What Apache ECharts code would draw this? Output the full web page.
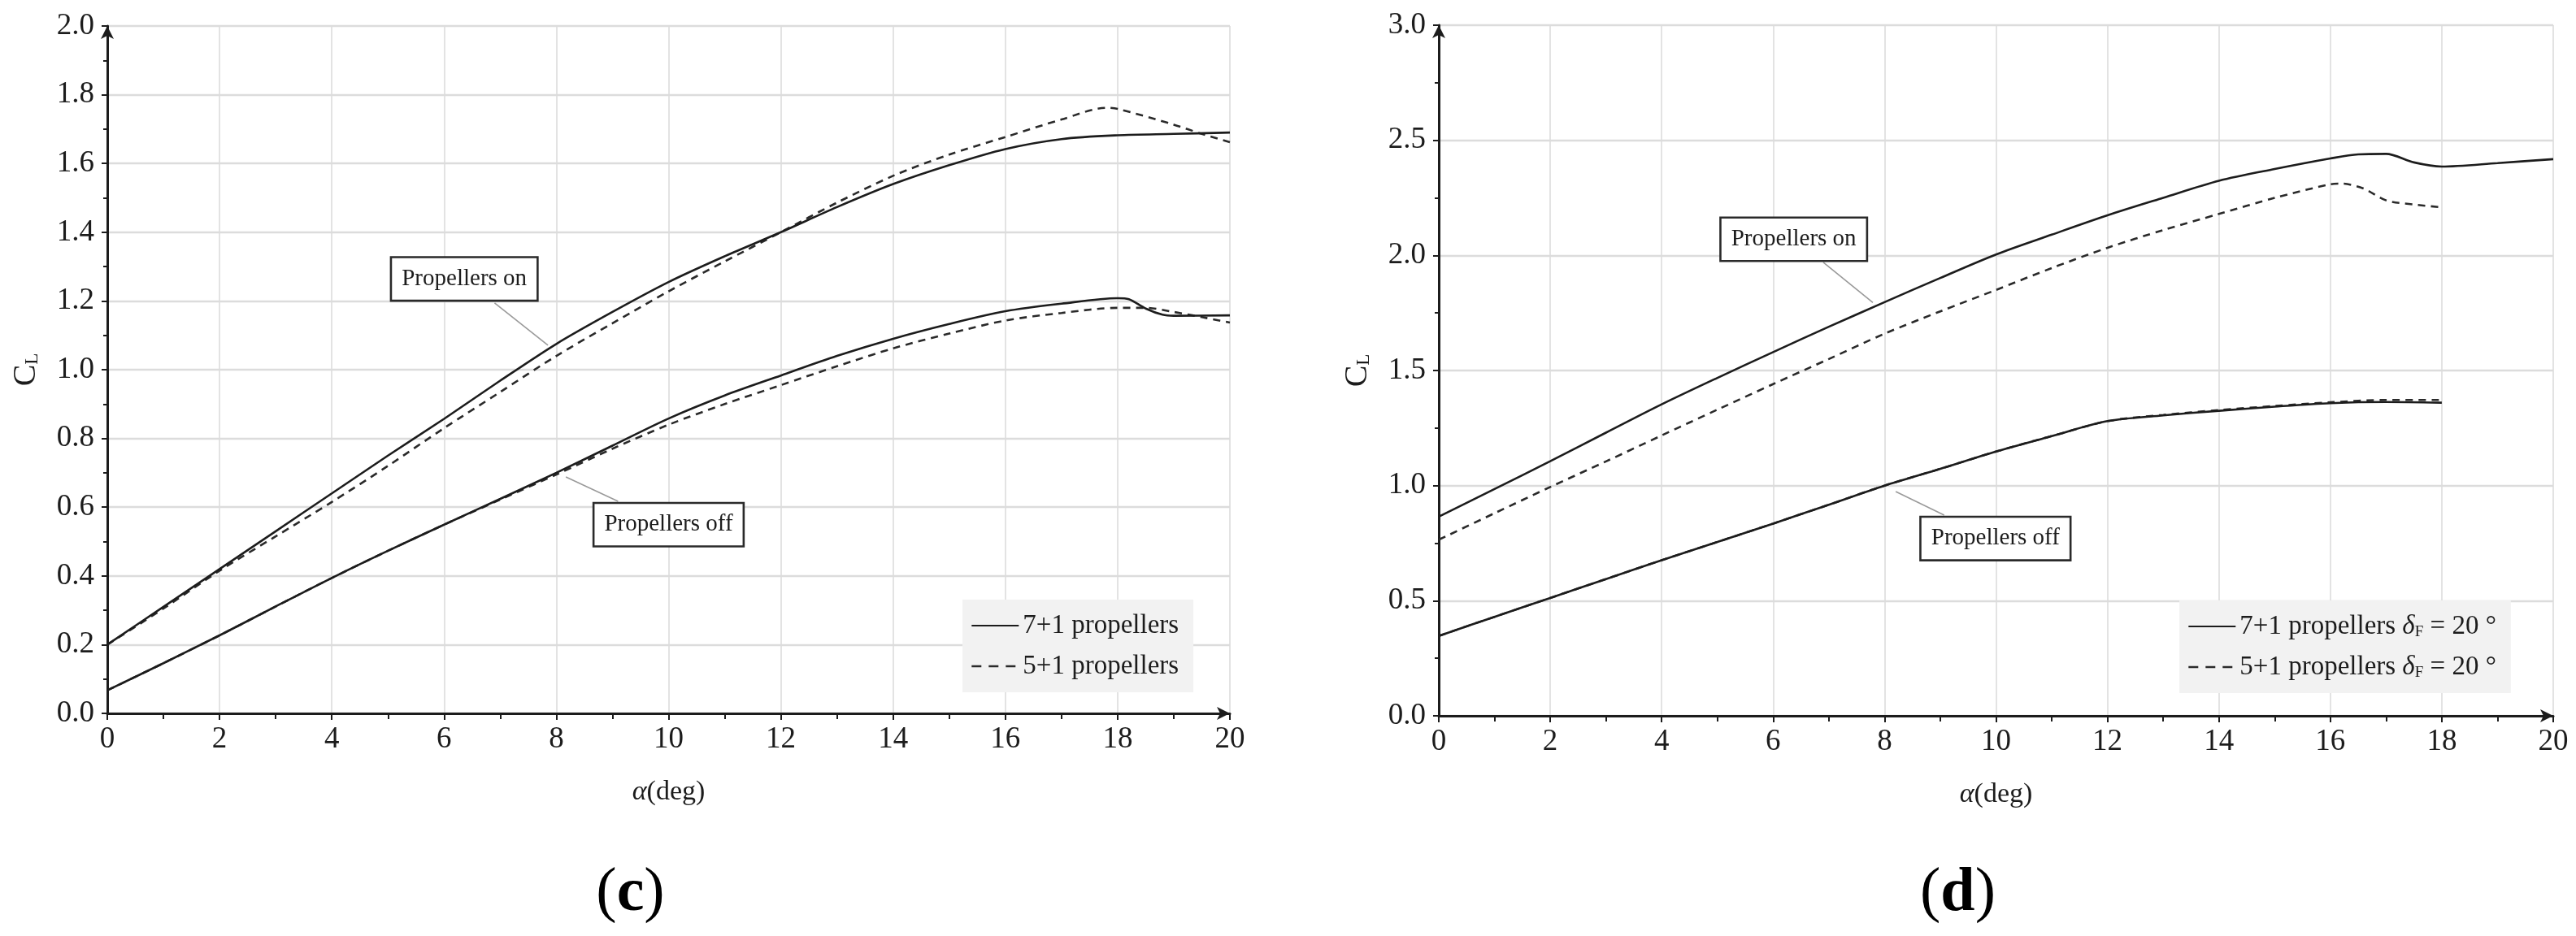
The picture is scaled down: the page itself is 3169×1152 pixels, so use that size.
<!DOCTYPE html>
<html>
<head>
<meta charset="utf-8">
<script src="https://cdn.jsdelivr.net/npm/echarts@6/dist/echarts.min.js"></script>
<style>
  html, body { margin: 0; padding: 0; background: #fff; }
  #chart { width: 3169px; height: 1152px; }
</style>
</head>
<body>
<div id="chart"></div>
<script>
// ---------- Panel (c) data ----------
const alphaTicksC = [0, 2, 4, 6, 8, 10, 12, 14, 16, 18, 20];
const clTicksC = [0.0, 0.2, 0.4, 0.6, 0.8, 1.0, 1.2, 1.4, 1.6, 1.8, 2.0];

const alphaOn7C = [0,1,2,3,4,5,6,7,8,9,10,11,12,13,14,15,16,17,18,19,20];
const clOn7C    = [0.20,0.31,0.42,0.53,0.64,0.75,0.857,0.968,1.075,1.168,1.255,1.33,1.40,1.473,1.54,1.595,1.642,1.671,1.682,1.686,1.69];

const alphaOn5C = [0,1,2,3,4,5,6,7,8,9,10,11,12,13,14,15,16,17,17.8,18,19,19.5,20];
const clOn5C    = [0.20,0.305,0.415,0.515,0.615,0.72,0.83,0.935,1.04,1.135,1.228,1.315,1.40,1.486,1.564,1.626,1.677,1.728,1.762,1.759,1.713,1.686,1.662];

const alphaOff7C = [0,1,2,3,4,5,6,7,8,9,10,11,12,13,14,15,16,17,18,18.2,18.5,18.8,19,20];
const clOff7C    = [0.067,0.146,0.227,0.311,0.394,0.473,0.549,0.624,0.70,0.779,0.858,0.925,0.983,1.04,1.09,1.133,1.17,1.192,1.208,1.205,1.178,1.16,1.157,1.158];

const alphaOff5C = [0,1,2,3,4,5,6,7,8,9,10,11,12,13,14,15,16,17,18,18.5,19,19.5,20];
const clOff5C    = [0.067,0.146,0.227,0.311,0.394,0.473,0.549,0.622,0.695,0.77,0.84,0.90,0.955,1.01,1.062,1.105,1.143,1.165,1.18,1.18,1.168,1.153,1.137];

// ---------- Panel (d) data ----------
const alphaTicksD = [0, 2, 4, 6, 8, 10, 12, 14, 16, 18, 20];
const clTicksD = [0.0, 0.5, 1.0, 1.5, 2.0, 2.5, 3.0];

const alphaOn7D = [0,1,2,3,4,5,6,7,8,9,10,11,12,13,14,15,16,16.5,17,17.5,18,19,20];
const clOn7D    = [0.865,0.985,1.106,1.23,1.353,1.468,1.58,1.69,1.797,1.902,2.004,2.09,2.174,2.25,2.324,2.375,2.421,2.439,2.441,2.404,2.386,2.401,2.418];

const alphaOn5D = [0,1,2,3,4,5,6,7,8,9,10,11,12,13,14,15,16,16.2,16.6,17,17.5,18];
const clOn5D    = [0.765,0.88,0.994,1.105,1.218,1.33,1.441,1.55,1.66,1.757,1.85,1.945,2.033,2.11,2.18,2.25,2.309,2.312,2.29,2.239,2.221,2.209];

const alphaOff7D = [0,1,2,3,4,5,6,7,8,9,10,11,12,13,14,15,16,17,18];
const clOff7D    = [0.347,0.43,0.512,0.594,0.676,0.755,0.835,0.917,1.0,1.073,1.148,1.215,1.28,1.305,1.325,1.343,1.358,1.363,1.36];

const alphaOff5D = [0,1,2,3,4,5,6,7,8,9,10,11,12,13,14,15,16,17,18];
const clOff5D    = [0.347,0.43,0.512,0.594,0.676,0.755,0.835,0.917,1.0,1.073,1.148,1.215,1.28,1.307,1.328,1.346,1.362,1.372,1.372];

// ---------- Names / text ----------
const namesC = ['7+1 propellers', '5+1 propellers'];
const namesD = ['7+1 propellers δF = 20 °', '5+1 propellers δF = 20 °'];
const panelLabels = ['c', 'd'];

// annotation anchors in data coordinates: [grid, text, boxCenter, leaderFrom, leaderTo]
const annotations = [
  [0, 'Propellers on',  [6.36, 1.264], [6.9, 1.194], [7.85, 1.071]],
  [0, 'Propellers off', [10.0, 0.549], [9.1, 0.617], [8.17, 0.688]],
  [1, 'Propellers on',  [6.37, 2.07],  [6.9, 1.97],  [7.79, 1.795]],
  [1, 'Propellers off', [9.99, 0.77],  [9.07, 0.872], [8.2, 0.974]]
];

const zip = (xs, ys) => xs.map((x, i) => [x, ys[i]]);
const FONT = "'Liberation Serif', 'Times New Roman', serif";
const INK = '#1c1c1c';

function xAxisCfg(gridIndex) {
  return {
    type: 'value', gridIndex, min: 0, max: 20, interval: 2,
    name: '{a|α}(deg)', nameLocation: 'middle', nameGap: 80,
    nameTextStyle: { fontFamily: FONT, fontSize: 34, color: INK, rich: { a: { fontFamily: FONT, fontSize: 34, fontStyle: 'italic', color: INK } } },
    axisLine: { show: true, onZero: false, lineStyle: { color: INK, width: 3 }, symbol: ['none', 'arrow'], symbolSize: [12, 16] },
    axisTick: { show: true, length: 8, lineStyle: { color: INK, width: 2 } },
    minorTick: { show: true, splitNumber: 2, length: 7, lineStyle: { color: INK, width: 2 } },
    axisLabel: { fontFamily: FONT, fontSize: 37, color: INK, margin: 14 },
    splitLine: { show: true, lineStyle: { color: '#dcdcdc', width: 1.6 } }
  };
}
function yAxisCfg(gridIndex, max, interval) {
  return {
    type: 'value', gridIndex, min: 0, max, interval,
    name: '{c|C}{l|L}', nameLocation: 'middle', nameRotate: 90, nameGap: 80,
    nameTextStyle: { fontFamily: FONT, color: INK, rich: {
      c: { fontFamily: FONT, fontSize: 40, color: INK },
      l: { fontFamily: FONT, fontSize: 23, color: INK, padding: [15, 0, 0, 0] }
    } },
    axisLine: { show: true, onZero: false, lineStyle: { color: INK, width: 3 }, symbol: ['none', 'arrow'], symbolSize: [12, 16] },
    axisTick: { show: true, length: 7, lineStyle: { color: INK, width: 2 } },
    minorTick: { show: true, splitNumber: 2, length: 5, lineStyle: { color: INK, width: 2 } },
    axisLabel: { fontFamily: FONT, fontSize: 37, color: INK, margin: 16, formatter: v => v.toFixed(1) },
    splitLine: { show: true, lineStyle: { color: '#dcdcdc', width: 2.4 } }
  };
}
function lineSeries(name, idx, data, dashed) {
  return {
    type: 'line', name, xAxisIndex: idx, yAxisIndex: idx, data,
    showSymbol: false, symbol: 'none', smooth: 0.3,
    silent: true, animation: false,
    lineStyle: dashed ? { color: '#2a2a2a', width: 2.6, type: [9, 7] } : { color: INK, width: 2.6, type: 'solid' },
    itemStyle: { color: dashed ? '#2a2a2a' : INK },
    z: dashed ? 3 : 4
  };
}

const legendRich = {
  n: { fontFamily: FONT, fontSize: 33, color: INK },
  i: { fontFamily: FONT, fontSize: 33, color: INK, fontStyle: 'italic' },
  s: { fontFamily: FONT, fontSize: 19, color: INK, padding: [14, 0, 0, 0] }
};
const legendBase = {
  orient: 'vertical', selectedMode: false,
  backgroundColor: '#f2f2f2', padding: [12, 18, 12, 10], itemGap: 10,
  itemWidth: 58, itemHeight: 14,
  itemStyle: { color: 'rgba(0,0,0,0)', borderColor: 'rgba(0,0,0,0)', borderWidth: 0, opacity: 0 },
  textStyle: { fontFamily: FONT, fontSize: 33, color: INK, lineHeight: 40, rich: legendRich }
};
const legendItems = names => [
  { name: names[0] },
  { name: names[1], lineStyle: { type: [12, 9], width: 2.6, color: '#2a2a2a' } }
];

const chart = echarts.init(document.getElementById('chart'), null, { renderer: 'canvas' });
const option = {
  backgroundColor: '#ffffff',
  animation: false,
  grid: [
    { left: 132, right: 1656, top: 32, bottom: 274, containLabel: false },
    { left: 1770, right: 28, top: 31, bottom: 271, containLabel: false }
  ],
  xAxis: [xAxisCfg(0), xAxisCfg(1)],
  yAxis: [yAxisCfg(0, 2.0, 0.2), yAxisCfg(1, 3.0, 0.5)],
  legend: [
    Object.assign({}, legendBase, {
      data: legendItems(namesC), left: 1184, top: 738,
      formatter: n => '{n|' + n + '}'
    }),
    Object.assign({}, legendBase, {
      data: legendItems(namesD), left: 2681, top: 739,
      formatter: n => '{n|' + n.split('δF')[0] + '}{i|δ}{s|F}{n|' + n.split('δF')[1] + '}'
    })
  ],
  series: [
    lineSeries(namesC[0], 0, zip(alphaOn7C, clOn7C), false),
    lineSeries(namesC[1], 0, zip(alphaOn5C, clOn5C), true),
    lineSeries(namesC[0], 0, zip(alphaOff7C, clOff7C), false),
    lineSeries(namesC[1], 0, zip(alphaOff5C, clOff5C), true),
    lineSeries(namesD[0], 1, zip(alphaOn7D, clOn7D), false),
    lineSeries(namesD[1], 1, zip(alphaOn5D, clOn5D), true),
    lineSeries(namesD[0], 1, zip(alphaOff7D, clOff7D), false),
    lineSeries(namesD[1], 1, zip(alphaOff5D, clOff5D), true)
  ]
};
chart.setOption(option);

// annotations and panel labels
const graphics = [];
annotations.forEach(([g, text, box, from, to]) => {
  const pb = chart.convertToPixel({ gridIndex: g }, box);
  const pf = chart.convertToPixel({ gridIndex: g }, from);
  const pt = chart.convertToPixel({ gridIndex: g }, to);
  graphics.push({
    type: 'line', silent: true, z: 20,
    shape: { x1: pf[0], y1: pf[1], x2: pt[0], y2: pt[1] },
    style: { stroke: '#9a9a9a', lineWidth: 1.6 }
  });
  graphics.push({
    type: 'text', silent: true, z: 21, x: pb[0], y: pb[1],
    style: {
      text, font: '29px ' + FONT, fill: INK, align: 'center', verticalAlign: 'middle',
      backgroundColor: '#ffffff', borderColor: '#2a2a2a', borderWidth: 2.6, padding: [11, 12, 11, 12]
    }
  });
});
const gridCenters = [[132, 1513], [1770, 3141]];
panelLabels.forEach((p, i) => {
  const cx = (gridCenters[i][0] + gridCenters[i][1]) / 2 - 47;
  graphics.push({
    type: 'text', silent: true, x: cx, y: 1100,
    style: {
      text: '{p|(}{b|' + p + '}{p|)}', align: 'center', verticalAlign: 'middle',
      rich: {
        p: { font: '76px ' + FONT, fill: '#000' },
        b: { font: 'bold 76px ' + FONT, fill: '#000' }
      }
    }
  });
});
chart.setOption({ graphic: graphics });
</script>
</body>
</html>
